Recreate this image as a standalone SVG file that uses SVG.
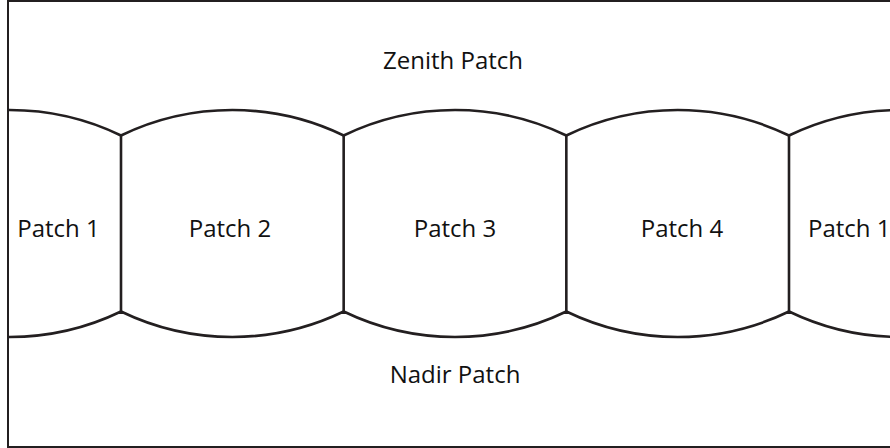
<svg xmlns="http://www.w3.org/2000/svg" width="890" height="448" viewBox="0 0 890 448">
<style>
.frame{fill:none;stroke:#231f20;stroke-width:2}
.seam{fill:none;stroke:#231f20;stroke-width:2.6;stroke-linejoin:miter}
.lbl{font-family:"Open Sans","Liberation Sans",sans-serif;font-size:24px;fill:#111;text-anchor:middle}
</style>
<defs>
<clipPath id="inside"><rect x="8" y="1" width="900" height="446"/></clipPath>
</defs>
<rect class="frame" x="8" y="1" width="900" height="446"/>
<g id="connectors" clip-path="url(#inside)">
<path class="seam" d="M -101.67 135.5 A 256 256 0 0 1 121 135.5 A 256 256 0 0 1 343.67 135.5 A 256 256 0 0 1 566.33 135.5 A 256 256 0 0 1 789 135.5 A 256 256 0 0 1 1011.67 135.5"/>
<path class="seam" d="M -101.67 311.5 A 256 256 0 0 0 121 311.5 A 256 256 0 0 0 343.67 311.5 A 256 256 0 0 0 566.33 311.5 A 256 256 0 0 0 789 311.5 A 256 256 0 0 0 1011.67 311.5"/>
<path class="seam" d="M 121 135.5 V 311.5 M 343.67 135.5 V 311.5 M 566.33 135.5 V 311.5 M 789 135.5 V 311.5"/>
</g>
<g id="zenith"><text class="lbl" x="453" y="69">Zenith Patch</text></g>
<g id="nadir"><text class="lbl" x="455" y="383">Nadir Patch</text></g>
<g id="patch1-left"><text class="lbl" x="58.5" y="237">Patch 1</text></g>
<g id="patch2"><text class="lbl" x="230" y="237">Patch 2</text></g>
<g id="patch3"><text class="lbl" x="455" y="237">Patch 3</text></g>
<g id="patch4"><text class="lbl" x="682" y="237">Patch 4</text></g>
<g id="patch1-right"><text class="lbl" x="808" y="237" style="text-anchor:start">Patch 1</text></g>
</svg>
